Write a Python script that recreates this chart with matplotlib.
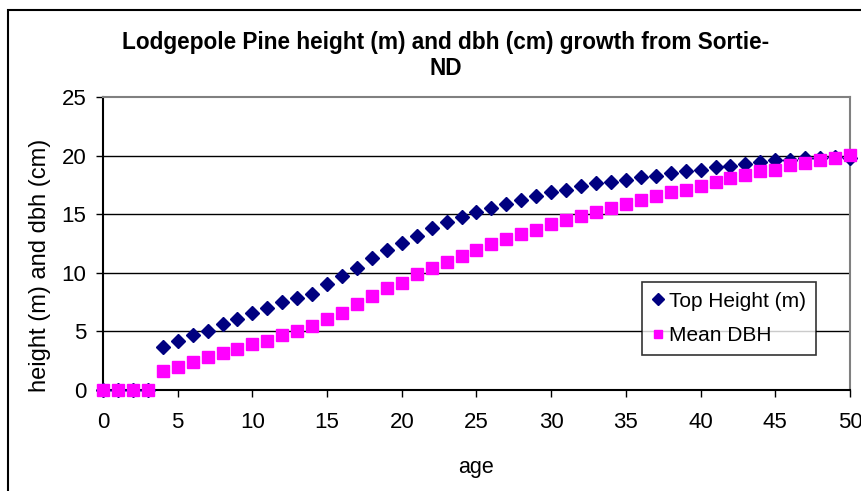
import matplotlib.pyplot as plt
from matplotlib.patches import Rectangle

plt.rcParams['font.family'] = ['Liberation Sans', 'DejaVu Sans']

age = list(range(0, 51))
top_height = [0, 0, 0, 0, 3.67, 4.21, 4.73, 5.07, 5.64, 6.10,
              6.61, 7.01, 7.47, 7.87, 8.15, 9.01, 9.72, 10.43, 11.29, 11.92,
              12.57, 13.15, 13.86, 14.35, 14.72, 15.23, 15.52, 15.91, 16.23, 16.57,
              16.92, 17.09, 17.43, 17.63, 17.77, 17.94, 18.14, 18.29, 18.52, 18.66,
              18.80, 19.00, 19.14, 19.29, 19.43, 19.60, 19.65, 19.78, 19.80, 19.85,
              19.82]
mean_dbh = [0, 0, 0, 0, 1.64, 1.99, 2.36, 2.84, 3.18, 3.53,
            3.90, 4.21, 4.73, 5.07, 5.44, 6.10, 6.60, 7.35, 8.01, 8.67,
            9.15, 9.87, 10.38, 10.92, 11.43, 11.92, 12.43, 12.92, 13.29, 13.64,
            14.15, 14.52, 14.86, 15.22, 15.52, 15.86, 16.20, 16.52, 16.92, 17.09,
            17.43, 17.77, 18.09, 18.35, 18.66, 18.80, 19.20, 19.34, 19.63, 19.80,
            20.09]

W, H = 862, 491
fig = plt.figure(figsize=(W / 100, H / 100), dpi=100)

# outer chart frame (only left and top edges show in the picture)
fig.patches.append(Rectangle((8 / W, -0.1), 1.2, 1 - 10 / H + 0.1, transform=fig.transFigure,
                             fill=False, edgecolor='black', linewidth=1.5))

ax = fig.add_axes([103 / W, 1 - 390 / H, (850 - 103) / W, (390 - 97) / H])

ax.plot(age, top_height, linestyle='none', marker='D', markersize=7.5,
        color='#000080', label='Top Height (m)', clip_on=False, zorder=3)
ax.plot(age, mean_dbh, linestyle='none', marker='s', markersize=8,
        color='#FF00FF', label='Mean DBH', clip_on=False, zorder=4)

ax.set_xlim(0, 50)
ax.set_ylim(0, 25)
ax.set_xticks(range(0, 51, 5))
ax.set_yticks(range(0, 26, 5))
ax.tick_params(direction='out', length=5, width=1, labelsize=16)
ax.tick_params(axis='x', pad=11)
ax.tick_params(axis='y', pad=7)
for y in [5, 10, 15, 20]:
    ax.axhline(y, color='black', linewidth=1, zorder=1)

for s in ['top', 'right']:
    ax.spines[s].set_color('#808080')
    ax.spines[s].set_linewidth(1.5)
for s in ['left', 'bottom']:
    ax.spines[s].set_color('black')
    ax.spines[s].set_linewidth(1.5)

fig.text(476 / W, 1 - 467 / H, 'age', ha='center', va='center', fontsize=15.5)
fig.text(40 / W, 1 - 265 / H, 'height (m) and dbh (cm)', ha='center', va='center',
         rotation=90, fontsize=17)

fig.text(446 / W, 1 - 49 / H, 'Lodgepole Pine height (m) and dbh (cm) growth from Sortie-',
         ha='center', va='baseline', fontsize=16.3, fontweight='bold')
fig.text(446 / W, 1 - 75 / H, 'ND', ha='center', va='baseline', fontsize=16.3, fontweight='bold')

leg = ax.legend(loc='upper left', bbox_to_anchor=((642 - 103) / (850 - 103), (390 - 282) / (390 - 97)),
                fontsize=15, frameon=True, fancybox=False, edgecolor='black', markerscale=0.8,
                handlelength=0.6, handletextpad=0.25, borderpad=0.47, labelspacing=0.73,
                borderaxespad=0)
leg.get_frame().set_linewidth(1.2)
leg.set_zorder(5)

fig.savefig('out.png', dpi=100)
